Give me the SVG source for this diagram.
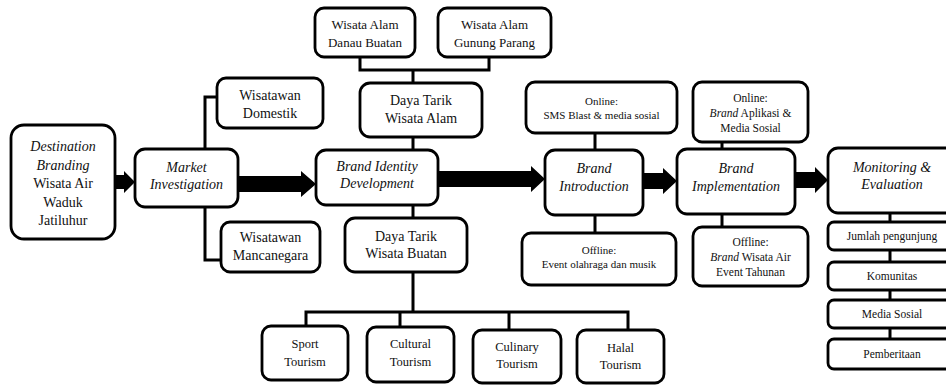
<svg xmlns="http://www.w3.org/2000/svg" width="946" height="385" viewBox="0 0 946 385" font-family="'Liberation Serif', 'Times New Roman', serif">
<style>
.box{fill:#fff;stroke:#000;stroke-width:2.8}
.ln{fill:none;stroke:#000;stroke-width:3}
.ar{fill:#000;stroke:none}
text{font-family:'Liberation Serif','Times New Roman',serif;fill:#111;text-anchor:middle}
.t14{font-size:14px}
.t13{font-size:13px}
.t125{font-size:12.5px}
.t11{font-size:11px}
.t115{font-size:11.5px}
.i{font-style:italic}
</style>
<rect width="946" height="385" fill="#fff"/>
<g id="connectors">
<path class="ln" d="M217,97 H205 V260 H221"/>
<path class="ln" d="M360,57 V70 H489 V57 M413,70 V83 M413,137 V150 M413,205 V218"/>
<path class="ln" d="M413,272 V312 M306,326 V312 H628 V330 M400,312 V327 M509,312 V330"/>
<path class="ln" d="M595,133 V150 M595,215 V233"/>
<path class="ln" d="M722,142 V149 M722,214 V227"/>
<path class="ln" d="M890,213 V339"/>
<polygon class="ar" points="115,175 124,175 124,171 135,182 124,193 124,189 115,189"/>
<polygon class="ar" points="238,176 301,176 301,171 316,184 301,197 301,192 238,192"/>
<polygon class="ar" points="438,171 531,171 531,166 545,179 531,192 531,187 438,187"/>
<polygon class="ar" points="643,173 663,173 663,168 677,181 663,194 663,189 643,189"/>
<polygon class="ar" points="795,172 815,172 815,167 828,180 815,193 815,188 795,188"/>
</g>
<g id="destination">
<rect class="box" x="11" y="125" width="104" height="114" rx="13"/>
<text class="t14 i" x="63" y="151">Destination</text>
<text class="t14 i" x="63" y="169.5">Branding</text>
<text class="t14" x="63" y="188">Wisata Air</text>
<text class="t14" x="63" y="206.5">Waduk</text>
<text class="t14" x="63" y="225">Jatiluhur</text>
</g>
<g id="market">
<rect class="box" x="135" y="149" width="103" height="58" rx="10"/>
<text class="t14 i" x="186.5" y="172">Market</text>
<text class="t14 i" x="186.5" y="189">Investigation</text>
</g>
<g id="domestik">
<rect class="box" x="217" y="78" width="106" height="50" rx="9"/>
<text class="t14" x="270" y="100">Wisatawan</text>
<text class="t14" x="270" y="118">Domestik</text>
</g>
<g id="mancanegara">
<rect class="box" x="221" y="222" width="99" height="50" rx="9"/>
<text class="t14" x="270.5" y="242">Wisatawan</text>
<text class="t14" x="270.5" y="260">Mancanegara</text>
</g>
<g id="danau">
<rect class="box" x="315" y="8" width="100" height="49" rx="9"/>
<text class="t13" x="365" y="28.5">Wisata Alam</text>
<text class="t13" x="365" y="46.5">Danau Buatan</text>
</g>
<g id="gunung">
<rect class="box" x="438" y="8" width="113" height="49" rx="9"/>
<text class="t13" x="494.5" y="28.5">Wisata Alam</text>
<text class="t13" x="494.5" y="46.5">Gunung Parang</text>
</g>
<g id="alam">
<rect class="box" x="360" y="83" width="122" height="54" rx="10"/>
<text class="t14" x="421" y="105">Daya Tarik</text>
<text class="t14" x="421" y="123">Wisata Alam</text>
</g>
<g id="identity">
<rect class="box" x="316" y="150" width="122" height="55" rx="10"/>
<text class="t14 i" x="377" y="171">Brand Identity</text>
<text class="t14 i" x="377" y="188">Development</text>
</g>
<g id="buatan">
<rect class="box" x="345" y="218" width="122" height="54" rx="10"/>
<text class="t14" x="406" y="241">Daya Tarik</text>
<text class="t14" x="406" y="258">Wisata Buatan</text>
</g>
<g id="sport">
<rect class="box" x="262" y="326" width="86" height="54" rx="9"/>
<text class="t125" x="305" y="347.5">Sport</text>
<text class="t125" x="305" y="365.5">Tourism</text>
</g>
<g id="cultural">
<rect class="box" x="367" y="327" width="87" height="55" rx="9"/>
<text class="t125" x="410.5" y="347.5">Cultural</text>
<text class="t125" x="410.5" y="365.5">Tourism</text>
</g>
<g id="culinary">
<rect class="box" x="473" y="330" width="88" height="53" rx="9"/>
<text class="t125" x="517" y="350.5">Culinary</text>
<text class="t125" x="517" y="367.5">Tourism</text>
</g>
<g id="halal">
<rect class="box" x="577" y="330" width="87" height="53" rx="9"/>
<text class="t125" x="620.5" y="351.5">Halal</text>
<text class="t125" x="620.5" y="368.5">Tourism</text>
</g>
<g id="online1">
<rect class="box" x="526" y="82" width="151" height="51" rx="9"/>
<text class="t11" x="601.5" y="105">Online:</text>
<text class="t11" x="601.5" y="119">SMS Blast &amp; media sosial</text>
</g>
<g id="introduction">
<rect class="box" x="545" y="150" width="98" height="65" rx="10"/>
<text class="t14 i" x="594" y="173">Brand</text>
<text class="t14 i" x="594" y="191">Introduction</text>
</g>
<g id="offline1">
<rect class="box" x="522" y="233" width="154" height="52" rx="9"/>
<text class="t11" x="599" y="254">Offline:</text>
<text class="t11" x="599" y="268">Event olahraga dan musik</text>
</g>
<g id="online2">
<rect class="box" x="693" y="82" width="115" height="60" rx="9"/>
<text class="t115" x="750.5" y="102">Online:</text>
<text class="t115" x="750.5" y="117"><tspan font-style="italic">Brand</tspan> Aplikasi &amp;</text>
<text class="t115" x="750.5" y="132">Media Sosial</text>
</g>
<g id="implementation">
<rect class="box" x="677" y="149" width="118" height="65" rx="10"/>
<text class="t14 i" x="736" y="173">Brand</text>
<text class="t14 i" x="736" y="191">Implementation</text>
</g>
<g id="offline2">
<rect class="box" x="693" y="227" width="115" height="59" rx="9"/>
<text class="t115" x="750.5" y="246">Offline:</text>
<text class="t115" x="750.5" y="261"><tspan font-style="italic">Brand</tspan> Wisata Air</text>
<text class="t115" x="750.5" y="276">Event Tahunan</text>
</g>
<g id="monitoring">
<rect class="box" x="828" y="148" width="130" height="65" rx="10"/>
<text class="t14 i" x="892" y="172">Monitoring &amp;</text>
<text class="t14 i" x="892" y="189">Evaluation</text>
</g>
<g id="jumlah">
<rect class="box" x="828" y="222" width="130" height="28" rx="6"/>
<text class="t115" x="892" y="240">Jumlah pengunjung</text>
</g>
<g id="komunitas">
<rect class="box" x="828" y="262" width="130" height="28" rx="6"/>
<text class="t115" x="892" y="280">Komunitas</text>
</g>
<g id="mediasosial">
<rect class="box" x="828" y="300" width="130" height="28" rx="6"/>
<text class="t115" x="892" y="318">Media Sosial</text>
</g>
<g id="pemberitaan">
<rect class="box" x="828" y="339" width="130" height="30" rx="6"/>
<text class="t115" x="892" y="358">Pemberitaan</text>
</g>
</svg>
